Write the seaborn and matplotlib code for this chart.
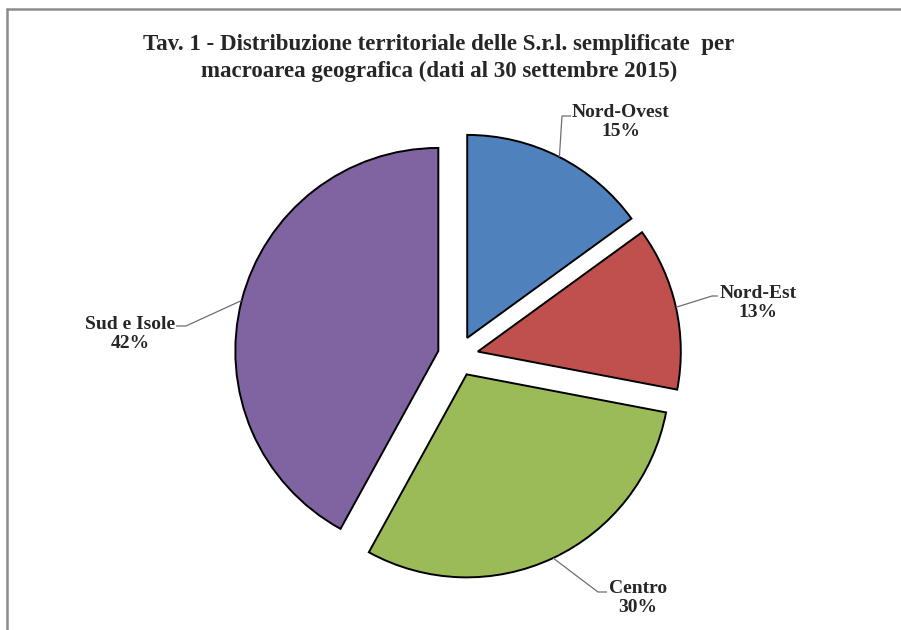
import numpy as np
import matplotlib
matplotlib.use("Agg")
import matplotlib.pyplot as plt
from matplotlib.lines import Line2D
import seaborn as sns

# Dati
macroaree = ["Nord-Ovest", "Nord-Est", "Centro", "Sud e Isole"]
quote = [15, 13, 30, 42]
colori = ["#4F81BD", "#C0504D", "#9BBB59", "#8064A2"]
titolo = "Tav. 1 - Distribuzione territoriale delle S.r.l. semplificate  per\nmacroarea geografica (dati al 30 settembre 2015)"

sns.set_theme(style="white")
plt.rcParams["font.family"] = ["Liberation Serif", "DejaVu Serif"]

# Layout in pixel (centro torta, raggio) e posizioni delle etichette
W, H = 901, 630
CX, CY, R = 458, 356, 203
pos_etichette = [(621, 122), (758, 303), (638, 598), (130, 334)]
gomiti = [(562, 116, 571), (712, 296, 718), (598, 592, 607), (186, 326, 176)]


def px(x, y):
    return (x - CX) / R, (CY - y) / R


fig = plt.figure(figsize=(W / 100, H / 100), dpi=100)
ax = fig.add_axes([0, 0, 1, 1])

wedges, _ = ax.pie(quote, colors=sns.color_palette(colori), startangle=90, counterclock=False,
                   explode=[0.1] * 4, radius=1,
                   wedgeprops=dict(edgecolor="black", linewidth=1.4))
ax.set_xlim(px(0, 0)[0], px(W, 0)[0])
ax.set_ylim(px(0, H)[1], px(0, 0)[1])
ax.axis("off")

# Etichette con linee guida
for w, nome, q, (tx, ty), (gx, gy, gx2) in zip(wedges, macroaree, quote, pos_etichette, gomiti):
    ang = np.deg2rad((w.theta1 + w.theta2) / 2)
    ax0 = w.center[0] + w.r * np.cos(ang)
    ay0 = w.center[1] + w.r * np.sin(ang)
    ex, ey = px(gx, gy)
    ex2, _ = px(gx2, gy)
    ax.plot([ax0, ex, ex2], [ay0, ey, ey], color="#6f6f6f", lw=0.9, solid_capstyle="butt")
    lx, ly = px(tx, ty)
    ax.text(lx, ly, f"{nome}\n{q}%", ha="center", va="center", fontsize=14,
            fontweight="bold", linespacing=1.2)

fig.text(439 / W, 1 - 58 / H, titolo, ha="center", va="center", fontsize=16.5,
         fontweight="bold", linespacing=1.3)

# Bordo
fig.add_artist(Line2D([7 / W, 1], [1 - 9 / H, 1 - 9 / H], color="#8c8c8c", lw=1.8,
                      transform=fig.transFigure))
fig.add_artist(Line2D([7 / W, 7 / W], [1 - 9 / H, 0], color="#8c8c8c", lw=1.8,
                      transform=fig.transFigure))

fig.savefig("out.png", dpi=100, facecolor="white")
